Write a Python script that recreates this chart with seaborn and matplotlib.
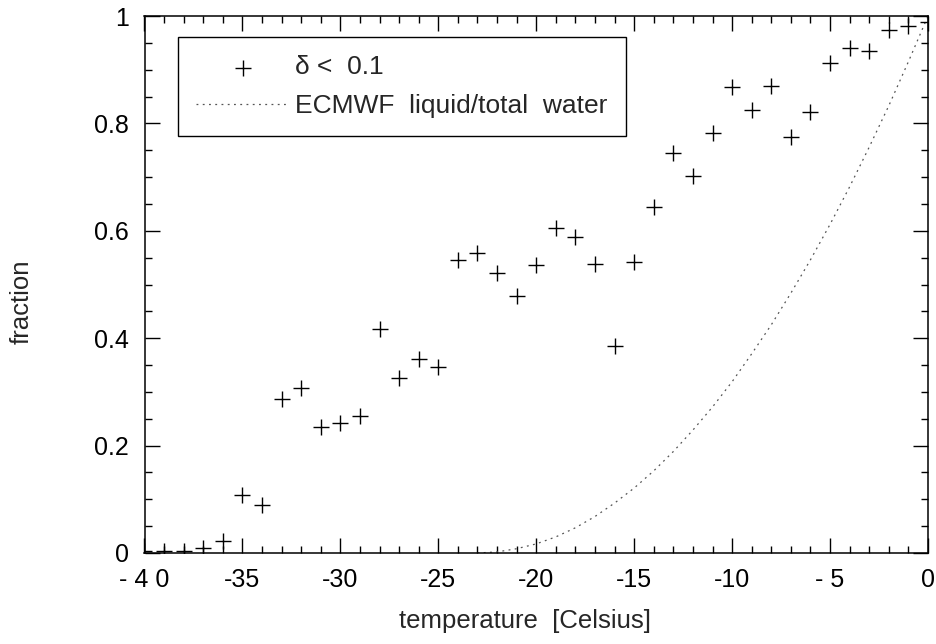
import numpy as np
import pandas as pd
import matplotlib
matplotlib.use("Agg")
import matplotlib.pyplot as plt
from matplotlib.ticker import MultipleLocator, FixedLocator
import seaborn as sns

# ---- data ----
temp_obs = [-40, -39, -38, -37, -36, -35, -34, -33, -32, -31, -30, -29, -28, -27, -26,
            -25, -24, -23, -22, -21, -20, -19, -18, -17, -16, -15, -14, -13, -12, -11,
            -10, -9, -8, -7, -6, -5, -4, -3, -2, -1, 0]
frac_obs = [0.003, 0.003, 0.003, 0.009, 0.022, 0.108, 0.089, 0.286, 0.308, 0.235, 0.242,
            0.256, 0.418, 0.325, 0.362, 0.346, 0.546, 0.559, 0.521, 0.479, 0.536, 0.605,
            0.588, 0.538, 0.385, 0.541, 0.645, 0.745, 0.702, 0.782, 0.868, 0.825, 0.870,
            0.775, 0.822, 0.913, 0.941, 0.935, 0.973, 0.981, 0.988]

temp_ecmwf = [-23, -22, -21, -20, -19, -18, -17, -16, -15, -14, -13, -12, -11, -10,
              -9, -8, -7, -6, -5, -4, -3, -2, -1, 0]
frac_ecmwf = [0.0, 0.002, 0.008, 0.017, 0.030, 0.047, 0.068, 0.093, 0.121, 0.153, 0.189,
              0.229, 0.272, 0.319, 0.371, 0.425, 0.484, 0.546, 0.612, 0.682, 0.756, 0.833,
              0.915, 1.0]

xtick_vals = [-40, -35, -30, -25, -20, -15, -10, -5, 0]
xtick_labels = ["- 4 0", "-35", "-30", "-25", "-20", "-15", "-10", "- 5", "0"]
ytick_vals = [0, 0.2, 0.4, 0.6, 0.8, 1.0]
ytick_labels = ["0", "0.2", "0.4", "0.6", "0.8", "1"]

label_obs = "δ <  0.1"
label_ecmwf = "ECMWF  liquid/total  water"

df_obs = pd.DataFrame({"T": temp_obs, "f": frac_obs})
df_ec = pd.DataFrame({"T": temp_ecmwf, "f": frac_ecmwf})

sns.set_style("ticks")
plt.rcParams["font.family"] = ["Liberation Sans", "DejaVu Sans"]
FS_TICK = 18
FS_LAB = 18.5
FS_LEG = 19

fig = plt.figure(figsize=(9.36, 6.44), dpi=100)
ax = fig.add_axes([144.5 / 936, 1 - 553 / 644, (928 - 144.5) / 936, (553 - 16) / 644])

sns.scatterplot(data=df_obs, x="T", y="f", marker="+", s=140, color="black",
                linewidth=1.0, ax=ax, label=label_obs, zorder=3)
sns.lineplot(data=df_ec, x="T", y="f", color="#555555", linewidth=0.9,
             linestyle=(0, (1.5, 3.5)), ax=ax, label=label_ecmwf)

ax.set_xlim(-40, 0)
ax.set_ylim(0, 1)
ax.xaxis.set_major_locator(FixedLocator(xtick_vals))
ax.set_xticklabels(xtick_labels)
ax.xaxis.set_minor_locator(MultipleLocator(1))
ax.yaxis.set_major_locator(FixedLocator(ytick_vals))
ax.set_yticklabels(ytick_labels)
ax.yaxis.set_minor_locator(MultipleLocator(0.05))

ax.tick_params(which="both", direction="in", top=True, right=True, width=1.0,
               colors="black", labelsize=FS_TICK)
ax.tick_params(which="major", length=11)
ax.tick_params(axis="x", which="major", pad=11)
ax.tick_params(axis="y", which="major", pad=11)
ax.tick_params(which="minor", length=5)
for sp in ax.spines.values():
    sp.set_visible(True)
    sp.set_linewidth(1.1)
    sp.set_color("black")

ax.set_xlabel("temperature  [Celsius]", fontsize=FS_LAB)
ax.set_ylabel("fraction", fontsize=FS_LAB)
ax.xaxis.set_label_coords((525 - 144.5) / 783.5, (553 - 609) / 537)
ax.yaxis.set_label_coords((34 - 144.5) / 783.5, (553 - 302) / 537)

leg = ax.legend(loc="upper left", bbox_to_anchor=((178 - 144.5) / 783.5, (553 - 37) / 537),
                borderaxespad=0, fontsize=FS_LEG, frameon=True, fancybox=False,
                edgecolor="black", framealpha=1, handlelength=3.5, handletextpad=0.25,
                borderpad=0.7, labelspacing=0.55)
leg.get_frame().set_linewidth(1.0)

fig.savefig("out.png", dpi=100, facecolor="white")
